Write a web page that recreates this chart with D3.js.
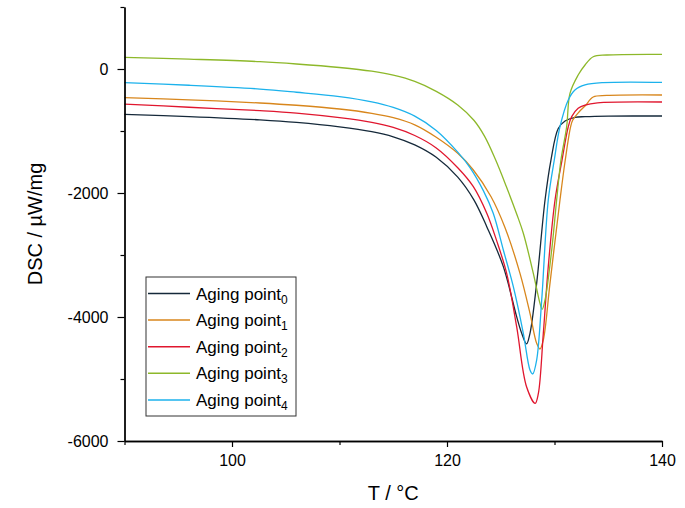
<!DOCTYPE html>
<html>
<head>
<meta charset="utf-8">
<script src="https://d3js.org/d3.v7.min.js"></script>
<style>
  body { margin: 0; background: #fff; }
  svg text { font-family: Arial, "Liberation Sans", sans-serif; fill: #000; }
</style>
</head>
<body>
<svg id="chart" width="685" height="508"></svg>
<script>
// values, [T in °C, DSC in µW/mg]
var point0 = [[90,-731],[96,-767],[102.6,-820],[106,-861],[110,-933],[113,-1011],[115,-1093],[117,-1223],[119,-1423],
  [121,-1743],[122.5,-2110],[123.7,-2543],[125.24,-3188],[126.48,-3995],[126.95,-4263],[127.4,-4435],[127.72,-4263],
  [128.34,-3457],[129.12,-2113],[129.67,-1468],[130.35,-960],[130.98,-840],[131.91,-779],[132.84,-769],[135,-760],[140,-758]];
var point1 = [[90,-463],[96,-497],[102.6,-548],[106,-585],[110,-645],[113,-715],[115,-785],[117,-900],[119,-1100],
  [121,-1360],[122.45,-1629],[124.1,-2060],[125.4,-2560],[126.79,-3296],[127.72,-3941],[128.34,-4425],[128.65,-4516],
  [128.96,-4371],[129.58,-3457],[130.51,-2113],[131,-1468],[131.5,-931],[131.7,-823],[132.3,-689],[132.84,-597],
  [133.6,-452],[134.86,-427],[140,-419]];
var point2 = [[90,-565],[96,-617],[102.6,-672],[106,-711],[110,-785],[113,-861],[115,-943],[117,-1073],[119,-1273],
  [121,-1593],[122.45,-1898],[123.7,-2327],[124.6,-2760],[125.55,-3296],[126.48,-4156],[127.4,-5124],[128.2,-5392],
  [128.5,-5231],[128.96,-4263],[129.42,-3188],[130.05,-2113],[130.7,-1468],[131.28,-931],[131.6,-769],
  [132.2,-634],[132.84,-581],[134,-545],[140,-532]];
var point3 = [[90,189],[96,159],[102.6,118],[106,81],[110,24],[113,-36],[115,-100],[117,-200],[119,-360],
  [121,-580],[122.5,-827],[123.5,-1087],[124.5,-1457],[125.5,-1887],[126.5,-2347],[127.1,-2650],[128.03,-3296],
  [128.65,-3780],[128.85,-3876],[129.12,-3726],[129.74,-2919],[130.2,-2113],[130.6,-1468],[131.13,-931],
  [131.44,-392],[132.2,-97],[132.84,65],[133.6,198],[134.86,226],[140,237]];
var point4 = [[90,-220],[96,-262],[102.6,-323],[106,-375],[110,-446],[113,-530],[115,-620],[117,-760],[119,-990],
  [121,-1340],[122.14,-1590],[123.38,-1962],[124.3,-2327],[125.24,-2919],[126.17,-3511],[127.1,-4263],[127.72,-4855],
  [127.97,-4919],[128.34,-4694],[128.81,-3726],[129.42,-2113],[129.98,-1468],[130.51,-931],[131.28,-500],
  [131.9,-339],[132.84,-258],[134.5,-220],[140,-215]];

var seriesNames = ['0', '1', '2', '3', '4'];
var seriesData = [point0, point1, point2, point3, point4];
var seriesColors = ['#15293a', '#d8861c', '#e0162e', '#8db82a', '#1cb2ec'];

var xTicks = [100, 120, 140];
var xMinor = [90, 110, 130];
var yTicks = [-6000, -4000, -2000, 0];
var yMinor = [-5000, -3000, -1000, 1000];

var margin = {left: 124.5, top: 7, right: 23, bottom: 67};
var W = 685, H = 508;

var svg = d3.select('#chart');
var x = d3.scaleLinear().domain([90, 140]).range([margin.left, W - margin.right]);
var y = d3.scaleLinear().domain([-6000, 1000]).range([H - margin.bottom, margin.top]);

var line = d3.line()
  .x(function(d){ return x(d[0]); })
  .y(function(d){ return y(d[1]); })
  .curve(d3.curveCatmullRom.alpha(0.5));

// curves
seriesData.forEach(function(s, i){
  svg.append('path')
    .datum(s)
    .attr('fill', 'none')
    .attr('stroke', seriesColors[i])
    .attr('stroke-width', 1.3)
    .attr('d', line);
});

// axes
var plain = function(d){ return String(d); };
svg.append('g')
  .attr('transform', 'translate(0,' + (H - margin.bottom) + ')')
  .call(d3.axisBottom(x).tickValues(xTicks).tickFormat(plain).tickSize(6).tickPadding(8).tickSizeOuter(0));
svg.append('g')
  .attr('transform', 'translate(0,' + (H - margin.bottom) + ')')
  .call(d3.axisBottom(x).tickValues(xMinor).tickSize(4).tickFormat('').tickSizeOuter(0));

svg.append('g')
  .attr('transform', 'translate(' + margin.left + ',0)')
  .call(d3.axisLeft(y).tickValues(yTicks).tickFormat(plain).tickSize(7).tickPadding(9).tickSizeOuter(0));
svg.append('g')
  .attr('transform', 'translate(' + margin.left + ',0)')
  .call(d3.axisLeft(y).tickValues(yMinor).tickSize(4).tickFormat('').tickSizeOuter(0));

svg.selectAll('.domain').attr('stroke', '#000').attr('stroke-width', 1.3);
svg.selectAll('.tick line').attr('stroke', '#000').attr('stroke-width', 1.2);
svg.selectAll('.tick text').style('font-size', '16px').attr('fill', '#000');

// axis titles
svg.append('text')
  .attr('x', (x(90) + x(140)) / 2)
  .attr('y', 500)
  .attr('text-anchor', 'middle')
  .style('font-size', '20px')
  .text('T / °C');

svg.append('text')
  .attr('transform', 'translate(42,' + (y(-6000) + y(1000)) / 2 + ') rotate(-90)')
  .attr('text-anchor', 'middle')
  .style('font-size', '20px')
  .text('DSC / µW/mg');

// legend
var lg = svg.append('g').attr('transform', 'translate(146,277)');
lg.append('rect')
  .attr('width', 150).attr('height', 139)
  .attr('fill', '#fff').attr('stroke', '#333').attr('stroke-width', 1);

seriesNames.forEach(function(n, i){
  var yy = 16.5 + i * 26.6;
  lg.append('line')
    .attr('x1', 2).attr('x2', 44).attr('y1', yy).attr('y2', yy)
    .attr('stroke', seriesColors[i]).attr('stroke-width', 1.5);
  var t = lg.append('text')
    .attr('x', 50).attr('y', yy + 6)
    .style('font-size', '17px');
  t.append('tspan').text('Aging point');
  t.append('tspan').attr('dy', 4).style('font-size', '12px').text(n);
});
</script>
</body>
</html>
